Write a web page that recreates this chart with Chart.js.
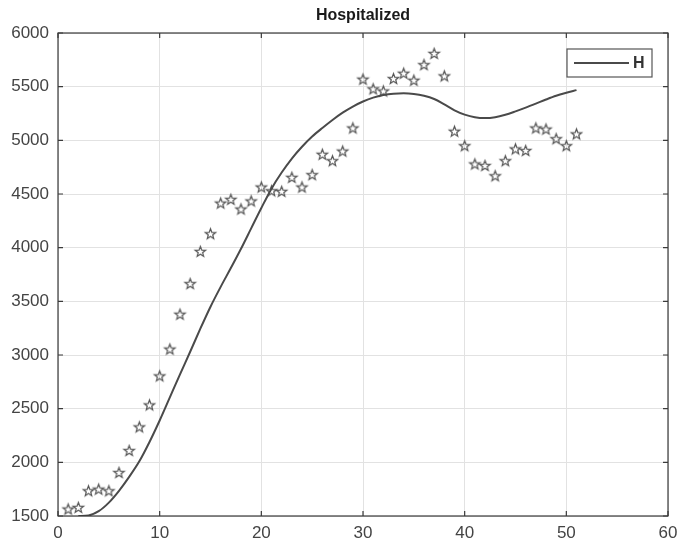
<!DOCTYPE html>
<html>
<head>
<meta charset="utf-8">
<script src="https://cdn.jsdelivr.net/npm/chart.js@4.4.1/dist/chart.umd.min.js"></script>
<style>
  html, body { margin: 0; padding: 0; background: #fff; }
  #wrap { width: 680px; height: 548px; }
</style>
</head>
<body>
<div id="wrap"><canvas id="mainChart" width="680" height="548"></canvas></div>
<script>
const TITLE = 'Hospitalized';
const LEGEND_LABEL = 'H';

// observed points (stars)
const obsDays = [1, 2, 3, 4, 5, 6, 7, 8, 9, 10, 11, 12, 13, 14, 15, 16, 17, 18, 19, 20,
    21, 22, 23, 24, 25, 26, 27, 28, 29, 30, 31, 32, 33, 34, 35, 36, 37, 38, 39, 40,
    41, 42, 43, 44, 45, 46, 47, 48, 49, 50, 51];
const obsValues = [1565, 1580, 1735, 1750, 1735, 1905, 2110, 2330, 2535, 2805,
    3055, 3380, 3665, 3965, 4130, 4415, 4450, 4360, 4435, 4565,
    4530, 4525, 4655, 4565, 4680, 4870, 4810, 4900, 5115, 5570,
    5480, 5460, 5575, 5625, 5560, 5705, 5810, 5600, 5085, 4950,
    4780, 4765, 4670, 4810, 4920, 4905, 5115, 5105, 5015, 4950, 5060];

// fitted curve (H)
const fitDays = [2, 3, 4, 5, 6, 7, 8, 9, 10, 11, 12, 13, 14, 15, 16, 17, 18, 19, 20,
    21, 22, 23, 24, 25, 26, 27, 28, 29, 30, 31, 32, 33, 34, 35, 36, 37, 38, 39, 40,
    41, 42, 43, 44, 45, 46, 47, 48, 49, 50, 51];
const fitValues = [1500, 1505, 1545, 1625, 1735, 1865, 2010, 2190, 2390,
    2605, 2820, 3030, 3245, 3450, 3635, 3810, 3990, 4180, 4370,
    4550, 4700, 4830, 4940, 5035, 5115, 5190, 5258, 5315, 5362,
    5398, 5422, 5435, 5438, 5432, 5415, 5385, 5335, 5280, 5240,
    5215, 5207, 5215, 5238, 5270, 5305, 5342, 5380, 5415, 5443, 5468];

const xTicks = [0, 10, 20, 30, 40, 50, 60];
const yTicks = [1500, 2000, 2500, 3000, 3500, 4000, 4500, 5000, 5500, 6000];

const LINE_COLOR = '#4a4a4a';
const AXIS_COLOR = '#3a3a3a';
const FONT = "'Liberation Sans', Arial, sans-serif";

// pentagram outline used as marker
function makeStar(r) {
    const size = Math.ceil(r * 2 + 4);
    const c = document.createElement('canvas');
    c.width = size; c.height = size;
    const g = c.getContext('2d');
    const cx = size / 2, cy = size / 2 + 0.5;
    g.beginPath();
    for (let i = 0; i < 10; i++) {
        const rad = i % 2 === 0 ? r : r * 0.42;
        const a = -Math.PI / 2 + i * Math.PI / 5;
        const px = cx + rad * Math.cos(a), py = cy + rad * Math.sin(a);
        if (i === 0) g.moveTo(px, py); else g.lineTo(px, py);
    }
    g.closePath();
    g.strokeStyle = '#555';
    g.lineWidth = 1.2;
    g.stroke();
    return c;
}
const starImg = makeStar(5.5);

// box, inner tick marks, title and legend (MATLAB look)
const matlabFrame = {
    id: 'matlabFrame',
    afterDraw(chart) {
        const { ctx, chartArea: a, scales } = chart;
        ctx.save();
        ctx.strokeStyle = AXIS_COLOR;
        ctx.lineWidth = 1.2;
        ctx.strokeRect(a.left, a.top, a.right - a.left, a.bottom - a.top);

        ctx.beginPath();
        xTicks.forEach(v => {
            const px = scales.x.getPixelForValue(v);
            ctx.moveTo(px, a.bottom); ctx.lineTo(px, a.bottom - 5);
            ctx.moveTo(px, a.top); ctx.lineTo(px, a.top + 5);
        });
        yTicks.forEach(v => {
            const py = scales.y.getPixelForValue(v);
            ctx.moveTo(a.left, py); ctx.lineTo(a.left + 5, py);
            ctx.moveTo(a.right, py); ctx.lineTo(a.right - 5, py);
        });
        ctx.stroke();

        // title
        ctx.fillStyle = '#1a1a1a';
        ctx.font = 'bold 16px ' + FONT;
        ctx.textAlign = 'center';
        ctx.textBaseline = 'middle';
        ctx.fillText(TITLE, (a.left + a.right) / 2, 16);

        // legend
        const lx = 567, ly = 49, lw = 85, lh = 28;
        ctx.fillStyle = '#fff';
        ctx.fillRect(lx, ly, lw, lh);
        ctx.strokeStyle = '#555';
        ctx.lineWidth = 1.2;
        ctx.strokeRect(lx, ly, lw, lh);
        ctx.strokeStyle = LINE_COLOR;
        ctx.lineWidth = 2;
        ctx.beginPath();
        ctx.moveTo(lx + 7, ly + lh / 2);
        ctx.lineTo(lx + 62, ly + lh / 2);
        ctx.stroke();
        ctx.fillStyle = '#333';
        ctx.font = 'bold 16px ' + FONT;
        ctx.textAlign = 'left';
        ctx.fillText(LEGEND_LABEL, lx + 66, ly + lh / 2 + 1);
        ctx.restore();
    }
};

const ctx = document.getElementById('mainChart').getContext('2d');
new Chart(ctx, {
    type: 'scatter',
    data: {
        datasets: [
            {
                label: LEGEND_LABEL,
                data: fitDays.map((d, i) => ({ x: d, y: fitValues[i] })),
                showLine: true,
                borderColor: LINE_COLOR,
                borderWidth: 2,
                pointRadius: 0,
                cubicInterpolationMode: 'monotone',
                fill: false
            },
            {
                label: 'data',
                data: obsDays.map((d, i) => ({ x: d, y: obsValues[i] })),
                showLine: false,
                pointStyle: starImg,
                pointRadius: 6
            }
        ]
    },
    options: {
        responsive: false,
        animation: false,
        layout: { padding: { top: 33, right: 12, left: 0, bottom: 0 } },
        plugins: {
            legend: { display: false },
            title: { display: false },
            tooltip: { enabled: false }
        },
        scales: {
            x: {
                type: 'linear',
                min: 0, max: 60,
                afterFit: s => { s.height = 32; s.paddingRight = 0; s.paddingLeft = 0; },
                afterBuildTicks: s => { s.ticks = xTicks.map(v => ({ value: v })); },
                grid: { color: '#e2e2e2', lineWidth: 1, drawTicks: false },
                border: { display: false },
                ticks: { color: '#444', font: { family: FONT, size: 17 }, padding: 7, maxRotation: 0,
                    callback: v => String(v) }
            },
            y: {
                min: 1500, max: 6000,
                afterFit: s => { s.width = 58; s.paddingTop = 0; s.paddingBottom = 0; },
                afterBuildTicks: s => { s.ticks = yTicks.map(v => ({ value: v })); },
                grid: { color: '#e2e2e2', lineWidth: 1, drawTicks: false },
                border: { display: false },
                ticks: { color: '#444', font: { family: FONT, size: 17 }, padding: 9,
                    callback: v => String(v) }
            }
        }
    },
    plugins: [matlabFrame]
});
</script>
</body>
</html>
